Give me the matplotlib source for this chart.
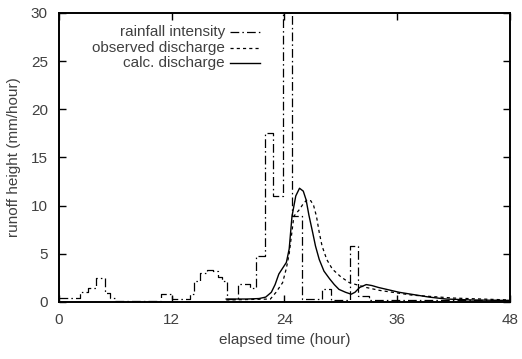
import matplotlib

matplotlib.use("Agg")
import matplotlib.pyplot as plt  # noqa: E402

# rainfall intensity: step edges (hour) and value from that edge on (mm/hour)
rain_t = [0.0, 2.2, 3.1, 3.9, 4.9, 5.4, 6.0, 10.9, 12.0, 13.9, 14.4, 15.0,
          15.7, 16.4, 16.9, 17.4, 17.9, 19.0, 20.3, 21.0, 21.9, 22.8, 23.8,
          24.8, 25.9, 28.0, 29.0, 31.0, 31.8, 33.0, 48.0]
rain_v = [0.4, 1.0, 1.4, 2.5, 0.9, 0.4, 0.1, 0.8, 0.3, 0.8, 2.2, 3.0,
          3.3, 3.2, 2.6, 2.2, 0.3, 1.9, 1.4, 4.8, 17.5, 11.0, 35.0,
          8.9, 0.3, 1.3, 0.2, 5.8, 0.6, 0.2, 0.2]

# observed discharge
obs_t = [17.8, 22.5, 23.1, 23.8, 24.2, 24.5, 25.0, 25.6, 26.0, 26.4, 26.8,
         27.1, 27.4, 27.7, 28.0, 28.5, 29.1, 30.0, 30.9, 32.7, 34.1, 37.6,
         42.0, 48.0]
obs_v = [0.2, 0.3, 1.0, 2.0, 3.5, 5.0, 8.9, 9.6, 10.2, 10.6, 10.5,
         10.0, 8.9, 7.2, 5.8, 4.4, 3.4, 2.6, 2.0, 1.5, 1.2, 0.7,
         0.4, 0.2]

# calculated discharge
calc_t = [17.8, 20.0, 21.3, 22.0, 22.6, 23.0, 23.4, 23.8, 24.2, 24.5, 24.8,
          25.2, 25.6, 26.0, 26.3, 26.6, 27.0, 27.3, 27.7, 28.2, 28.8, 29.3,
          29.8, 30.5, 31.1, 31.5, 32.0, 32.7, 33.3, 34.0, 36.2, 39.4, 41.2,
          44.0, 48.0]
calc_v = [0.3, 0.3, 0.35, 0.5, 1.0, 1.8, 2.9, 3.5, 4.1, 5.5, 8.9,
          11.0, 11.8, 11.5, 10.6, 9.0, 7.2, 5.8, 4.4, 3.2, 2.4, 1.8,
          1.3, 1.0, 0.8, 1.0, 1.5, 1.8, 1.7, 1.5, 1.0, 0.5, 0.3,
          0.2, 0.15]

XTICKS = [0, 12, 24, 36, 48]
YTICKS = [0, 5, 10, 15, 20, 25, 30]

plt.rcParams["font.family"] = ["Liberation Sans", "DejaVu Sans"]
TXT = "#404040"

fig = plt.figure(figsize=(5.22, 3.59), dpi=100)
ax = fig.add_axes([0.113, 0.159, 0.864, 0.805])

styles = {
    "rain": dict(color="black", lw=0.9, ls=(0, (7, 2.5, 1.2, 2.5))),
    "obs": dict(color="black", lw=0.9, ls=(0, (2.5, 2.5))),
    "calc": dict(color="black", lw=1.0, ls="-"),
}
ax.step(rain_t, rain_v, where="post", **styles["rain"])
ax.plot(obs_t, obs_v, **styles["obs"])
ax.plot(calc_t, calc_v, **styles["calc"])

ax.set_xlim(0, 48)
ax.set_ylim(0, 30)
ax.set_xticks(XTICKS)
ax.set_yticks(YTICKS)
ax.tick_params(direction="in", length=5, width=1.0, top=True, right=True,
               labelsize=11, labelcolor=TXT, pad=8)
for s in ax.spines.values():
    s.set_linewidth(1.4)
ax.set_xlabel("elapsed time (hour)", fontsize=11, color=TXT, labelpad=4)
ax.set_ylabel("runoff height (mm/hour)", fontsize=11, color=TXT, labelpad=7)

# gnuplot-style key: right-aligned text, sample line to the right
labels = [("rainfall intensity", "rain"), ("observed discharge", "obs"),
          ("calc. discharge", "calc")]
rows = [0.934, 0.879, 0.827]
for (text, key), yy in zip(labels, rows):
    ax.text(0.368, yy, text, transform=ax.transAxes, ha="right", va="center",
            fontsize=11, color=TXT)
    ax.plot([0.379, 0.446], [yy, yy], transform=ax.transAxes, **styles[key])

fig.savefig("out.png", dpi=100)
